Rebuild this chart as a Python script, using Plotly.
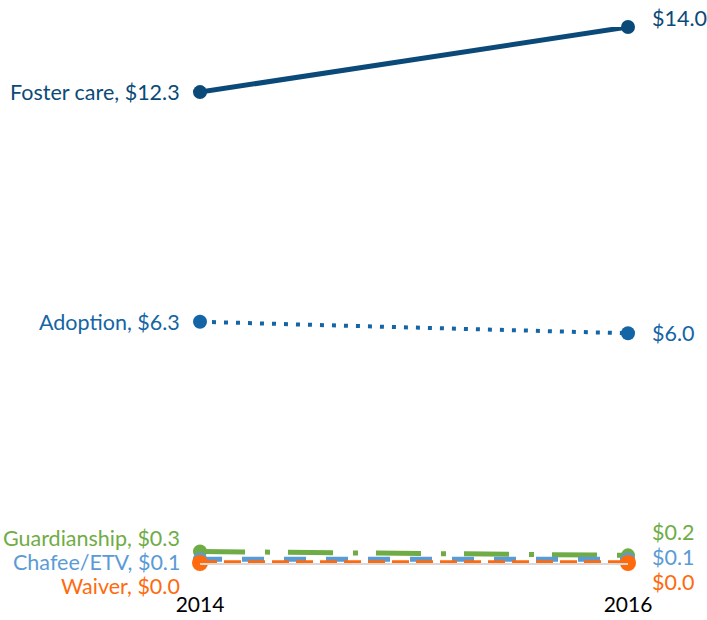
import plotly.graph_objects as go

years = [2014, 2016]
series_names = ["Foster care", "Adoption", "Guardianship", "Chafee/ETV", "Waiver"]
foster_care = [12.3, 14.0]
adoption = [6.3, 6.0]
guardianship = [0.3, 0.2]
chafee_etv = [0.1, 0.1]
waiver = [0.0, 0.0]
tick_labels = ["2014", "2016"]

values = [foster_care, adoption, guardianship, chafee_etv, waiver]
colors = ["#0b4a78", "#1465a5", "#6fac46", "#5b9bd5", "#ff6a0d"]
dashes = ["solid", "4px,8px", "45px,20px,5px,18px", "22px,20px", "17px,7px"]
widths = [5, 4, 5, 5, 5.5]
msizes = [14, 14, 14, 14, 16]
left_yshift = [0, 0, 14, -3, -23]
right_yshift = [9, 0, 23, 2, -19]

font = "Lato, 'Open Sans', sans-serif"

fig = go.Figure()
for name, vals, c, d, w, ms in zip(series_names, values, colors, dashes, widths, msizes):
    fig.add_trace(go.Scatter(
        x=years, y=vals, mode="lines+markers", name=name,
        line=dict(color=c, width=w, dash=d),
        marker=dict(color=c, size=ms),
        cliponaxis=False, showlegend=False, hoverinfo="skip",
    ))

annotations = []
for name, vals, c, ly, ry in zip(series_names, values, colors, left_yshift, right_yshift):
    annotations.append(dict(
        x=years[0], y=vals[0], xref="x", yref="y",
        text=f"{name}, ${vals[0]:.1f}", showarrow=False,
        xanchor="right", yanchor="middle", xshift=-18, yshift=ly,
        font=dict(family=font, size=21.5, color=c),
    ))
    annotations.append(dict(
        x=years[1], y=vals[1], xref="x", yref="y",
        text=f"${vals[1]:.1f}", showarrow=False,
        xanchor="left", yanchor="middle", xshift=22, yshift=ry,
        font=dict(family=font, size=21.5, color=c),
    ))

fig.update_layout(
    width=707, height=620,
    margin=dict(l=200, r=79, t=27, b=57, autoexpand=False),
    paper_bgcolor="white", plot_bgcolor="white",
    annotations=annotations,
    xaxis=dict(
        range=[2014, 2016], tickvals=years, ticktext=tick_labels,
        showgrid=False, zeroline=False, showline=True, linecolor="#d9d9d9", linewidth=2,
        ticks="", tickfont=dict(family=font, size=21, color="black"),
        ticklabelstandoff=22, automargin=False, fixedrange=True,
    ),
    yaxis=dict(
        range=[0, 14], showgrid=False, zeroline=False, showticklabels=False,
        showline=False, ticks="", automargin=False, fixedrange=True,
    ),
)

fig.write_html(
    "out.html",
    config={"displayModeBar": False},
    post_script="document.body.style.margin='0';document.body.style.overflow='hidden';",
)
